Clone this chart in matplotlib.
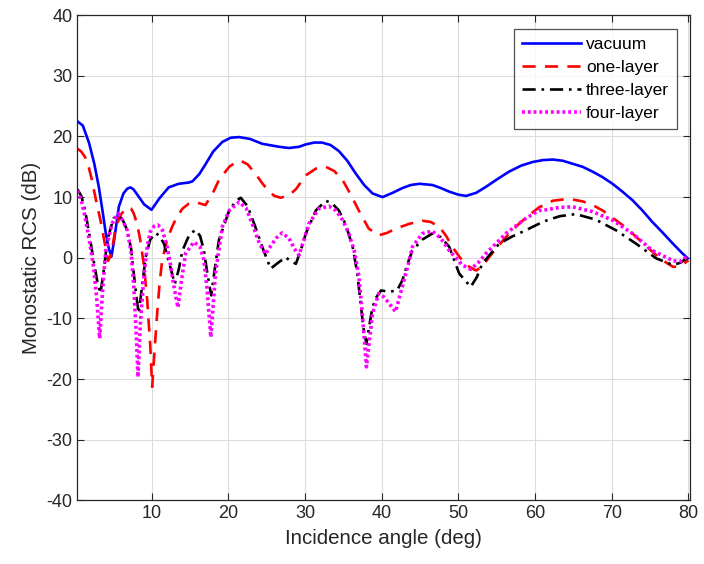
import matplotlib
matplotlib.use("Agg")
import matplotlib.pyplot as plt

plt.rcParams['font.family'] = ['Liberation Sans', 'DejaVu Sans']
plt.rcParams['axes.unicode_minus'] = False

# --- data ---
vac_x = [0.3, 1.0, 1.8, 2.5, 3.1, 3.6, 4.0, 4.4, 4.74, 5.1, 5.7, 6.3, 6.8, 7.2, 7.6, 8.0, 9.0, 9.96, 11.0, 12.2, 13.5, 14.8, 15.3, 16.2, 17.0, 18.0, 19.2, 20.3, 21.4, 22.8, 24.4, 26.6, 27.9, 29.2, 30.1, 31.2, 32.2, 33.3, 34.4, 35.5, 36.6, 37.7, 38.8, 40.1, 41.4, 42.7, 43.8, 44.9, 46.6, 47.7, 48.8, 50.0, 51.0, 52.3, 53.6, 55.0, 56.6, 58.2, 59.7, 61.0, 62.3, 63.6, 64.9, 66.2, 67.5, 68.8, 70.1, 71.4, 72.7, 74.0, 75.3, 76.6, 78.0, 79.0, 79.9]
vac_y = [22.5, 21.8, 19.0, 15.5, 11.6, 7.5, 4.0, 1.5, 0.2, 3.0, 8.4, 10.6, 11.4, 11.6, 11.3, 10.6, 8.8, 7.9, 9.8, 11.6, 12.2, 12.4, 12.6, 13.8, 15.4, 17.5, 19.1, 19.8, 19.9, 19.6, 18.8, 18.3, 18.1, 18.3, 18.7, 19.0, 19.0, 18.6, 17.6, 16.0, 13.9, 12.0, 10.6, 10.0, 10.7, 11.5, 12.0, 12.2, 12.0, 11.5, 10.9, 10.4, 10.2, 10.7, 11.7, 12.9, 14.2, 15.2, 15.8, 16.1, 16.2, 16.0, 15.5, 15.0, 14.2, 13.3, 12.2, 10.9, 9.5, 7.8, 5.9, 4.2, 2.3, 1.0, -0.1]

one_x = [0.3, 0.8, 1.3, 1.8, 2.2, 2.7, 3.3, 3.8, 4.3, 4.7, 5.3, 6.0, 6.8, 7.3, 7.65, 8.1, 8.5, 9.0, 9.4, 9.8, 10.05, 10.4, 10.7, 11.0, 11.35, 12.0, 12.65, 13.3, 14.0, 14.8, 15.7, 16.4, 17.0, 17.9, 18.75, 20.1, 21.0, 21.6, 22.5, 23.5, 24.4, 25.3, 26.0, 26.8, 27.9, 28.8, 30.1, 31.4, 32.7, 33.8, 34.9, 36.0, 37.0, 38.3, 39.6, 40.7, 41.8, 43.6, 45.3, 46.4, 47.5, 48.4, 49.2, 50.1, 51.0, 52.3, 53.1, 54.0, 55.1, 56.2, 57.9, 59.2, 60.5, 62.3, 63.6, 64.9, 66.2, 67.5, 68.8, 70.1, 71.4, 72.7, 74.0, 75.3, 76.6, 78.0, 79.0, 80.0]
one_y = [18.0, 17.5, 16.6, 14.8, 12.8, 9.6, 6.2, 2.8, -0.5, 0.5, 5.1, 7.2, 8.3, 8.1, 7.3, 5.5, 2.9, -1.5, -7.0, -14.5, -21.3, -14.5, -9.2, -4.5, -0.4, 3.0, 5.1, 6.8, 8.1, 8.9, 9.2, 8.9, 8.7, 10.5, 12.8, 15.0, 15.8, 16.0, 15.4, 13.9, 12.3, 10.9, 10.2, 9.9, 10.3, 11.3, 13.6, 14.7, 15.0, 14.3, 12.8, 10.3, 7.8, 4.8, 3.7, 4.1, 4.8, 5.6, 6.1, 5.9, 5.1, 3.6, 1.8, 0.2, -1.2, -2.1, -1.5, 0.1, 1.8, 3.4, 5.6, 7.0, 8.3, 9.4, 9.6, 9.6, 9.3, 8.7, 7.8, 6.6, 5.4, 4.0, 2.5, 1.0, -0.4, -1.5, -1.4, -0.4]

three_x = [0.3, 0.8, 1.3, 1.9, 2.4, 2.9, 3.3, 3.8, 4.2, 5.0, 5.7, 6.3, 6.8, 7.3, 7.65, 8.0, 8.3, 8.7, 9.2, 9.8, 10.5, 11.0, 11.6, 12.3, 13.0, 13.5, 14.0, 14.9, 15.7, 16.3, 16.8, 17.3, 17.75, 18.2, 18.75, 20.1, 21.0, 21.6, 22.5, 23.5, 24.5, 25.5, 26.5, 27.5, 27.9, 28.8, 29.5, 30.1, 31.4, 32.7, 33.5, 34.4, 35.3, 36.2, 36.8, 37.2, 37.6, 38.0, 38.4, 38.8, 39.3, 39.9, 41.0, 42.0, 42.7, 43.3, 44.0, 45.3, 46.6, 47.7, 48.8, 50.1, 51.6, 52.4, 53.1, 55.3, 57.0, 58.4, 60.5, 61.4, 63.2, 65.3, 67.9, 70.6, 73.2, 75.8, 78.0, 79.0, 80.0]
three_y = [11.3, 10.2, 7.8, 3.5, -0.4, -4.0, -5.9, -1.5, 2.9, 6.5, 7.0, 6.0, 4.5, 1.5, -2.6, -6.5, -9.2, -5.0, 0.1, 3.0, 4.1, 3.6, 2.3, -1.0, -4.3, -2.0, 1.2, 3.8, 4.6, 3.6, 1.2, -3.0, -6.2, -2.0, 2.9, 7.8, 9.4, 9.9, 8.5, 5.1, 1.5, -1.8, -0.8, 0.1, -0.4, -1.0, 1.5, 4.0, 7.8, 9.4, 9.0, 7.8, 5.5, 1.8, -2.5, -7.0, -11.5, -14.2, -11.0, -8.1, -6.5, -5.4, -5.6, -5.4, -3.7, -1.2, 1.2, 3.0, 4.0, 3.4, 1.8, -2.6, -4.8, -3.2, -1.0, 2.3, 3.5, 4.3, 5.6, 6.1, 6.85, 7.2, 6.3, 4.5, 2.3, -0.1, -1.2, -0.8, 0.1]

four_x = [0.3, 0.8, 1.3, 1.9, 2.4, 2.8, 3.2, 3.6, 4.0, 4.8, 5.6, 6.2, 6.8, 7.3, 7.65, 7.95, 8.2, 8.5, 9.0, 9.4, 9.8, 10.3, 10.8, 11.4, 12.0, 12.5, 12.9, 13.4, 13.9, 14.4, 15.5, 16.3, 16.8, 17.2, 17.7, 18.0, 18.3, 19.2, 20.1, 21.4, 22.3, 23.1, 24.0, 24.8, 26.2, 27.0, 27.9, 28.6, 29.2, 30.5, 31.8, 33.1, 34.0, 34.9, 35.7, 36.4, 37.0, 37.3, 37.7, 38.0, 38.4, 38.8, 39.6, 40.3, 41.0, 41.8, 42.9, 43.6, 44.0, 45.3, 46.6, 47.7, 48.8, 50.5, 51.6, 52.6, 53.6, 56.2, 58.8, 60.5, 61.4, 63.2, 64.9, 67.5, 70.1, 72.7, 75.3, 78.0, 79.0, 80.0]
four_y = [11.1, 9.5, 6.7, 2.5, -1.5, -6.5, -13.3, -5.0, 1.2, 5.6, 7.3, 6.2, 4.5, 1.0, -4.8, -12.0, -19.7, -11.0, -2.6, 1.8, 4.3, 5.2, 5.4, 4.5, 1.8, -1.5, -4.8, -8.2, -3.5, 0.7, 2.6, 1.8, -0.4, -5.0, -13.1, -8.0, -2.6, 5.1, 7.8, 9.2, 8.2, 5.6, 2.5, 0.6, 3.2, 4.1, 3.2, 1.5, 0.4, 5.6, 8.1, 8.5, 7.8, 6.2, 4.0, 1.2, -3.0, -7.0, -13.0, -18.0, -13.5, -9.2, -5.9, -6.5, -7.6, -8.9, -3.7, -0.4, 1.8, 4.0, 4.4, 3.2, 1.2, -1.2, -1.9, -0.8, 0.7, 4.0, 6.5, 7.8, 7.9, 8.3, 8.4, 7.6, 6.2, 4.0, 1.2, -0.5, -0.6, 0.4]

labels = ['vacuum', 'one-layer', 'three-layer', 'four-layer']
xticks = [10, 20, 30, 40, 50, 60, 70, 80]
yticks = [-40, -30, -20, -10, 0, 10, 20, 30, 40]

fig = plt.figure(figsize=(7.04, 5.64), dpi=100)
ax = fig.add_axes([0.110, 0.113, 0.870, 0.860])

lw = 1.9
ax.plot(vac_x, vac_y, color='#0000ff', lw=lw, label=labels[0])
ax.plot(one_x, one_y, color='#ff0000', lw=lw, dashes=(5, 3.5), label=labels[1])
ax.plot(three_x, three_y, color='black', lw=lw, dashes=(5, 2.2, 1, 2.2), label=labels[2])
ax.plot(four_x, four_y, color='#ff00ff', lw=2.6, dashes=(0.8, 0.8), label=labels[3])

ax.set_xlim(0.3, 80.2)
ax.set_ylim(-40, 40)
ax.set_xticks(xticks)
ax.set_yticks(yticks)
ax.grid(True, color='#dcdcdc', lw=0.8)
ax.set_axisbelow(True)
ax.tick_params(direction='in', top=True, right=True, length=5, labelsize=13, colors='#262626')
for s in ax.spines.values():
    s.set_color('#262626')
    s.set_linewidth(0.9)
ax.set_xlabel('Incidence angle (deg)', fontsize=14.8, color='#262626', labelpad=5)
ax.set_ylabel('Monostatic RCS (dB)', fontsize=14.8, color='#262626')

leg = ax.legend(loc='upper right', bbox_to_anchor=(0.979, 0.971), fontsize=12.5,
                frameon=True, fancybox=False, handlelength=3.4, handletextpad=0.3,
                borderpad=0.45, labelspacing=0.45, borderaxespad=0)
leg.get_frame().set_edgecolor('#262626')
leg.get_frame().set_linewidth(0.9)

fig.savefig('out.png', dpi=100)
